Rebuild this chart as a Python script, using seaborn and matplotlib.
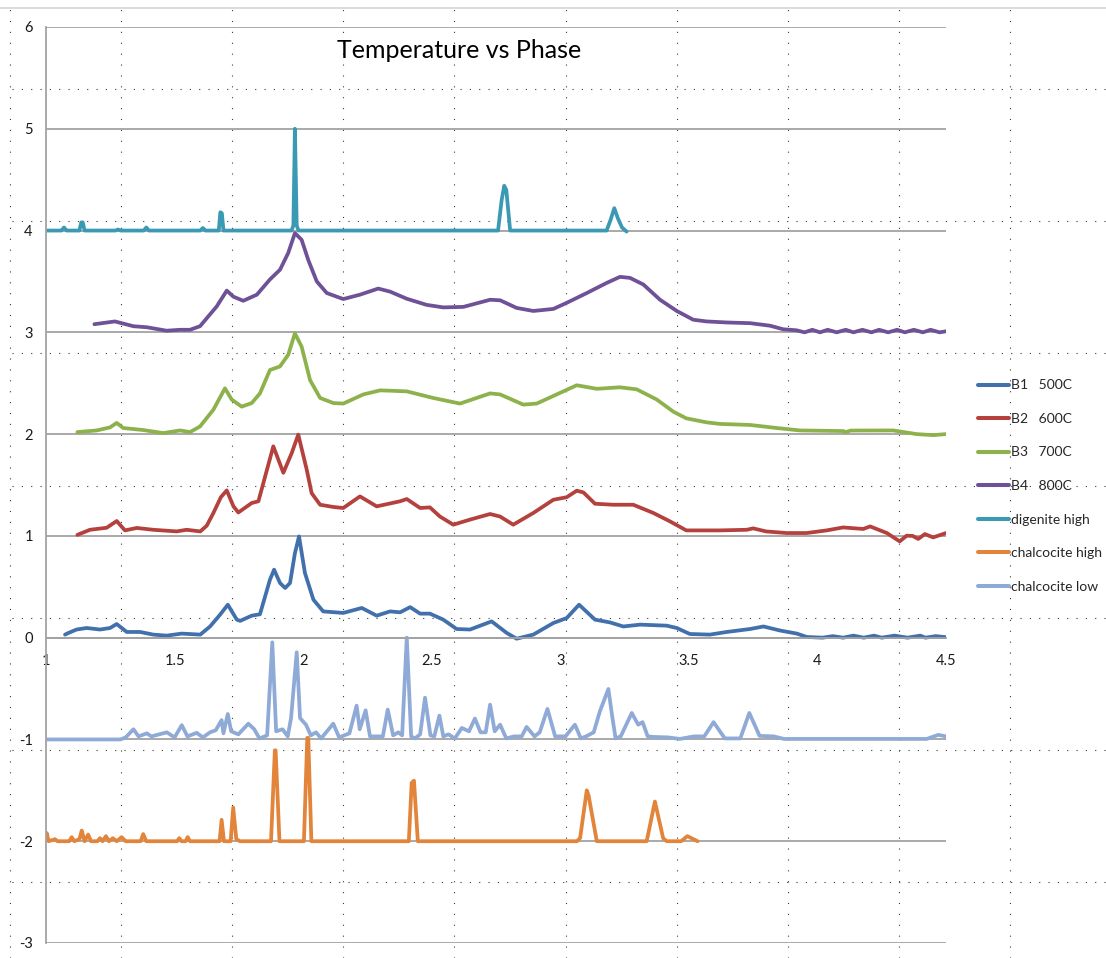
import numpy as np
import pandas as pd
import matplotlib
matplotlib.use("Agg")
import matplotlib.pyplot as plt
import seaborn as sns
from matplotlib.lines import Line2D

# ---------------- data ----------------
series_names = ["B1   500C", "B2   600C", "B3   700C", "B4   800C",
                "digenite high", "chalcocite high", "chalcocite low"]
series_colors = ["#4170AC", "#B4413D", "#8DB24C", "#6E5196",
                 "#3B9AB3", "#E2843A", "#8FAAD6"]

b1_x = [1.074, 1.087, 1.119, 1.158, 1.21, 1.249, 1.275, 1.314, 1.366, 1.417,
        1.469, 1.528, 1.60, 1.638, 1.677, 1.707, 1.742, 1.755, 1.80, 1.832,
        1.871, 1.887, 1.91, 1.93, 1.949, 1.968, 1.984, 2.007, 2.04, 2.078,
        2.156, 2.228, 2.286, 2.338, 2.377, 2.416, 2.455, 2.493, 2.545, 2.597,
        2.649, 2.733, 2.792, 2.83, 2.895, 2.973, 3.025, 3.073, 3.135, 3.193,
        3.245, 3.31, 3.414, 3.453, 3.504, 3.582, 3.647, 3.738, 3.79, 3.855,
        3.92, 3.958, 4.02, 4.06, 4.10, 4.14, 4.18, 4.22, 4.25, 4.30,
        4.35, 4.40, 4.42, 4.46, 4.5]
b1_y = [0.03, 0.046, 0.08, 0.095, 0.08, 0.095, 0.134, 0.056, 0.056, 0.03,
        0.02, 0.04, 0.03, 0.11, 0.226, 0.324, 0.177, 0.165, 0.216, 0.23,
        0.57, 0.668, 0.537, 0.488, 0.537, 0.83, 0.995, 0.635, 0.373, 0.258,
        0.243, 0.292, 0.216, 0.258, 0.249, 0.30, 0.236, 0.236, 0.177, 0.085,
        0.08, 0.16, 0.046, -0.01, 0.03, 0.144, 0.193, 0.324, 0.177, 0.15,
        0.11, 0.128, 0.118, 0.095, 0.036, 0.03, 0.056, 0.085, 0.11, 0.07,
        0.04, 0.007, 0.0, 0.015, 0.0, 0.02, 0.0, 0.02, 0.0, 0.02,
        0.0, 0.02, 0.0, 0.015, 0.005]

b2_x = [1.122, 1.171, 1.236, 1.275, 1.307, 1.353, 1.417, 1.508, 1.547, 1.60,
        1.625, 1.651, 1.68, 1.703, 1.729, 1.748, 1.80, 1.826, 1.884, 1.923,
        1.955, 1.981, 2.014, 2.033, 2.066, 2.118, 2.156, 2.221, 2.286, 2.377,
        2.403, 2.455, 2.493, 2.532, 2.584, 2.649, 2.727, 2.766, 2.817, 2.895,
        2.973, 3.025, 3.064, 3.09, 3.135, 3.206, 3.284, 3.362, 3.427, 3.49,
        3.621, 3.725, 3.75, 3.80, 3.88, 3.958, 4.036, 4.10, 4.178, 4.205,
        4.27, 4.32, 4.347, 4.37, 4.392, 4.418, 4.45, 4.5]
b2_y = [1.01, 1.06, 1.08, 1.146, 1.054, 1.078, 1.06, 1.044, 1.06, 1.044,
        1.10, 1.225, 1.38, 1.447, 1.29, 1.23, 1.323, 1.34, 1.88, 1.62,
        1.81, 1.995, 1.65, 1.42, 1.306, 1.284, 1.274, 1.388, 1.29, 1.34,
        1.362, 1.274, 1.28, 1.19, 1.11, 1.16, 1.215, 1.19, 1.11, 1.225,
        1.355, 1.38, 1.444, 1.427, 1.316, 1.306, 1.306, 1.225, 1.142, 1.054,
        1.054, 1.06, 1.074, 1.044, 1.028, 1.028, 1.054, 1.083, 1.068, 1.093,
        1.028, 0.946, 1.002, 1.0, 0.97, 1.018, 0.985, 1.028]

b3_x = [1.122, 1.197, 1.249, 1.275, 1.30, 1.378, 1.456, 1.521, 1.56, 1.599,
        1.651, 1.696, 1.722, 1.761, 1.80, 1.832, 1.871, 1.91, 1.942, 1.968,
        1.994, 2.027, 2.066, 2.118, 2.156, 2.234, 2.30, 2.403, 2.506, 2.61,
        2.727, 2.766, 2.856, 2.908, 3.012, 3.064, 3.142, 3.232, 3.297, 3.375,
        3.44, 3.49, 3.57, 3.621, 3.738, 3.842, 3.932, 4.10, 4.11, 4.13,
        4.295, 4.386, 4.45, 4.5]
b3_y = [2.02, 2.036, 2.066, 2.11, 2.06, 2.04, 2.01, 2.036, 2.02, 2.075,
        2.24, 2.45, 2.34, 2.27, 2.305, 2.40, 2.63, 2.665, 2.78, 2.99,
        2.86, 2.53, 2.355, 2.305, 2.30, 2.39, 2.43, 2.42, 2.355, 2.30,
        2.40, 2.39, 2.29, 2.30, 2.42, 2.48, 2.445, 2.46, 2.44, 2.34,
        2.22, 2.155, 2.115, 2.10, 2.09, 2.06, 2.036, 2.03, 2.02, 2.035,
        2.036, 2.00, 1.99, 2.0]

b4_x = [1.188, 1.268, 1.34, 1.392, 1.469, 1.521, 1.56, 1.599, 1.664, 1.703,
        1.729, 1.767, 1.82, 1.871, 1.91, 1.942, 1.968, 1.994, 2.02, 2.053,
        2.092, 2.156, 2.221, 2.292, 2.338, 2.403, 2.48, 2.545, 2.623, 2.727,
        2.766, 2.83, 2.895, 2.973, 3.025, 3.103, 3.18, 3.232, 3.271, 3.323,
        3.388, 3.453, 3.517, 3.569, 3.647, 3.738, 3.816, 3.867, 3.919, 3.95,
        3.98, 4.01, 4.04, 4.075, 4.11, 4.14, 4.175, 4.21, 4.24, 4.275,
        4.31, 4.34, 4.375, 4.41, 4.44, 4.475, 4.5]
b4_y = [3.08, 3.107, 3.06, 3.05, 3.016, 3.025, 3.025, 3.06, 3.255, 3.41,
        3.35, 3.31, 3.37, 3.52, 3.615, 3.78, 3.975, 3.91, 3.71, 3.5,
        3.386, 3.327, 3.37, 3.43, 3.40, 3.33, 3.27, 3.245, 3.25, 3.32,
        3.315, 3.24, 3.21, 3.23, 3.29, 3.386, 3.485, 3.545, 3.535, 3.47,
        3.32, 3.21, 3.124, 3.107, 3.097, 3.09, 3.065, 3.03, 3.02, 3.0,
        3.025, 3.0, 3.025, 3.0, 3.025, 3.0, 3.025, 3.0, 3.025, 3.0,
        3.025, 3.0, 3.025, 3.0, 3.025, 3.0, 3.01]

dig_x = [1.0, 1.06, 1.07, 1.08, 1.13, 1.137, 1.143, 1.15, 1.27, 1.28,
         1.29, 1.38, 1.39, 1.40, 1.60, 1.61, 1.62, 1.672, 1.678, 1.684,
         1.69, 1.955, 1.962, 1.968, 1.975, 1.982, 2.758, 2.772, 2.782, 2.79,
         2.805, 3.18, 3.195, 3.21, 3.224, 3.24, 3.258]
dig_y = [4.0, 4.0, 4.03, 4.0, 4.0, 4.08, 4.08, 4.0, 4.0, 4.01,
         4.0, 4.0, 4.03, 4.0, 4.0, 4.025, 4.0, 4.0, 4.18, 4.17,
         4.0, 4.0, 4.05, 5.0, 4.05, 4.0, 4.0, 4.3, 4.44, 4.4,
         4.0, 4.0, 4.1, 4.22, 4.12, 4.03, 3.99]

ch_hi_x = [1.0, 1.003, 1.01, 1.035, 1.045, 1.09, 1.10, 1.11, 1.13, 1.139,
           1.15, 1.164, 1.175, 1.20, 1.21, 1.22, 1.233, 1.245, 1.26, 1.275,
           1.294, 1.31, 1.368, 1.378, 1.39, 1.51, 1.518, 1.527, 1.543, 1.551,
           1.56, 1.675, 1.683, 1.692, 1.718, 1.728, 1.74, 1.755, 1.875, 1.89,
           1.893, 1.908, 2.003, 2.016, 2.02, 2.032, 2.411, 2.422, 2.431, 2.446,
           3.065, 3.077, 3.103, 3.11, 3.142, 3.336, 3.368, 3.40, 3.414, 3.47,
           3.494, 3.51, 3.534]
ch_hi_y = [-1.95, -1.92, -2.0, -1.98, -2.0, -2.0, -1.96, -2.0, -1.98, -1.895,
           -2.0, -1.935, -2.0, -2.0, -1.97, -2.0, -1.95, -2.0, -1.97, -2.0,
           -1.96, -2.0, -2.0, -1.93, -2.0, -2.0, -1.97, -2.0, -2.0, -1.96,
           -2.0, -2.0, -1.79, -2.0, -2.0, -1.67, -1.98, -2.0, -2.0, -1.107,
           -1.107, -2.0, -2.0, -0.985, -0.985, -2.0, -2.0, -1.427, -1.405, -2.0,
           -2.0, -1.97, -1.50, -1.55, -2.0, -2.0, -1.61, -1.97, -2.0, -2.0,
           -1.95, -1.97, -2.0]

ch_lo_x = [1.0, 1.29, 1.31, 1.34, 1.36, 1.392, 1.41, 1.44, 1.47, 1.50,
           1.528, 1.55, 1.586, 1.61, 1.638, 1.66, 1.683, 1.69, 1.707, 1.72,
           1.748, 1.787, 1.81, 1.83, 1.86, 1.88, 1.895, 1.92, 1.94, 1.953,
           1.975, 1.988, 2.011, 2.03, 2.05, 2.07, 2.117, 2.14, 2.18, 2.208,
           2.22, 2.243, 2.26, 2.31, 2.329, 2.35, 2.37, 2.385, 2.403, 2.42,
           2.435, 2.455, 2.474, 2.495, 2.51, 2.53, 2.545, 2.565, 2.59, 2.617,
           2.645, 2.668, 2.69, 2.71, 2.727, 2.745, 2.766, 2.79, 2.82, 2.85,
           2.869, 2.90, 2.92, 2.95, 2.98, 3.02, 3.057, 3.08, 3.10, 3.13,
           3.154, 3.187, 3.20, 3.215, 3.235, 3.278, 3.303, 3.32, 3.34, 3.36,
           3.42, 3.465, 3.52, 3.56, 3.596, 3.64, 3.70, 3.735, 3.775, 3.83,
           3.87, 3.92, 4.425, 4.47, 4.5]
ch_lo_y = [-1.0, -1.0, -0.98, -0.90, -0.97, -0.94, -0.97, -0.95, -0.93, -0.98,
           -0.86, -0.97, -0.935, -0.98, -0.93, -0.91, -0.81, -0.94, -0.75, -0.92,
           -0.95, -0.845, -0.90, -0.99, -0.96, -0.046, -0.92, -0.90, -0.97, -0.79,
           -0.144, -0.79, -0.855, -0.96, -0.93, -0.99, -0.845, -0.98, -0.94, -0.668,
           -0.90, -0.714, -0.97, -0.97, -0.707, -0.96, -0.93, -0.96, 0.0, -0.97,
           -0.99, -0.95, -0.59, -0.96, -0.97, -0.766, -0.97, -0.95, -0.99, -0.887,
           -0.92, -0.795, -0.93, -0.93, -0.658, -0.92, -0.855, -0.99, -0.97, -0.97,
           -0.877, -0.97, -0.93, -0.70, -0.97, -0.97, -0.855, -0.99, -0.97, -0.93,
           -0.724, -0.504, -0.74, -0.99, -0.97, -0.74, -0.855, -0.83, -0.97, -0.975,
           -0.98, -0.995, -0.97, -0.97, -0.83, -0.99, -0.99, -0.74, -0.965, -0.97,
           -0.995, -0.995, -0.995, -0.955, -0.97]

x_ticks = [1, 1.5, 2, 2.5, 3, 3.5, 4, 4.5]
x_tick_labels = ["1", "1.5", "2", "2.5", "3", "3.5", "4", "4.5"]
y_ticks = [-3, -2, -1, 0, 1, 2, 3, 4, 5, 6]
y_tick_labels = ["-3", "-2", "-1", "0", "1", "2", "3", "4", "5", "6"]
title_text = "Temperature vs Phase"

# ---------------- build table ----------------
series_xy = [(b1_x, b1_y), (b2_x, b2_y), (b3_x, b3_y), (b4_x, b4_y),
             (dig_x, dig_y), (ch_hi_x, ch_hi_y), (ch_lo_x, ch_lo_y)]
frames = []
for name, (xs, ys) in zip(series_names, series_xy):
    assert len(xs) == len(ys), name
    frames.append(pd.DataFrame({"x": xs, "y": ys, "series": name}))
df = pd.concat(frames, ignore_index=True)
palette = dict(zip(series_names, series_colors))

# ---------------- style ----------------
sns.set_theme(style="white")
plt.rcParams["font.family"] = ["Lato", "DejaVu Sans"]
plt.rcParams["axes.unicode_minus"] = False

W, H = 1106, 958
fig = plt.figure(figsize=(W / 100, H / 100), dpi=100)
fig.patch.set_facecolor("white")

# spreadsheet cell dotted lines behind the chart
for i in range(10):
    xp = (10 + 111.1 * i) / W
    fig.add_artist(Line2D([xp, xp], [0, 1 - 9 / H], transform=fig.transFigure,
                          color="#3a3a3a", lw=0.8, linestyle=(0, (1, 8.8)),
                          zorder=-5))
for j in range(7):
    yp = 1 - (89 + 132.2 * j) / H
    fig.add_artist(Line2D([12 / W, 1], [yp, yp], transform=fig.transFigure,
                          color="#3a3a3a", lw=0.8, linestyle=(0, (1, 7.4)),
                          zorder=-5))
fig.add_artist(Line2D([0, 1], [1 - 7.5 / H, 1 - 7.5 / H], transform=fig.transFigure,
                      color="#d4d4d4", lw=1.2, zorder=-4))

ax = fig.add_axes([46 / W, 1 - 943 / H, 900 / W, (943 - 27) / H])
ax.set_facecolor("none")

sns.lineplot(data=df, x="x", y="y", hue="series", hue_order=series_names,
             palette=palette, estimator=None, sort=False, linewidth=2.7,
             solid_joinstyle="round", solid_capstyle="round",
             legend=False, ax=ax)

ax.set_xlim(1, 4.5)
ax.set_ylim(-3, 6)
ax.set_xlabel("")
ax.set_ylabel("")
ax.set_xticks(x_ticks)
ax.set_xticklabels(x_tick_labels)
ax.set_yticks(y_ticks)
ax.set_yticklabels(y_tick_labels)

grid_col = "#a3a3a3"
ax.yaxis.grid(True, color=grid_col, lw=1.3)
ax.xaxis.grid(False)
ax.set_axisbelow(True)
for s in ["top", "right"]:
    ax.spines[s].set_visible(False)
ax.spines["bottom"].set_position(("data", 0))
for s in ["bottom", "left"]:
    ax.spines[s].set_color(grid_col)
    ax.spines[s].set_linewidth(1.3)
ax.tick_params(axis="x", direction="out", length=4.5, width=1, color=grid_col,
               pad=7, labelsize=10.5, labelcolor="#1a1a1a")
ax.tick_params(axis="y", direction="out", length=4.5, width=1, color=grid_col,
               pad=5, labelsize=10.5, labelcolor="#1a1a1a")

fig.text(459 / W, 1 - 50 / H, title_text, ha="center", va="center",
         fontsize=18, color="#000000")

handles = [Line2D([], [], color=c, lw=2.9) for c in series_colors]
fig.legend(handles, series_names, loc="center left",
           bbox_to_anchor=(978 / W, 1 - 486 / H), bbox_transform=fig.transFigure,
           frameon=False, fontsize=10, handlelength=2.2, handletextpad=0.15,
           labelspacing=1.55, borderpad=0, borderaxespad=0)

fig.savefig("out.png", dpi=100, facecolor="white")
